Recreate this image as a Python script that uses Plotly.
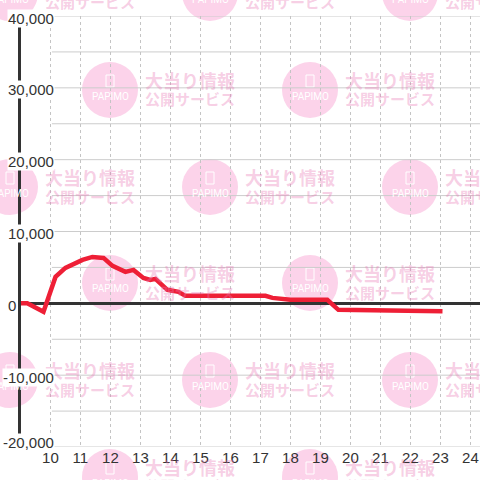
"""Daily payout line chart with PAPIMO-style watermark."""

import plotly.graph_objects as go

# hour of day vs. balance
hours = [9.0, 9.23, 9.77, 10.17, 10.5, 11.07, 11.4, 11.77, 12.07, 12.5, 12.77,
         13.1, 13.33, 13.5, 13.9, 14.27, 14.5, 17.17, 17.4, 18.0, 19.23, 19.6, 23.07]
balance = [0, 0, -1180, 3680, 4930, 6040, 6460, 6320, 5210, 4380, 4650,
           3540, 3260, 3400, 1880, 1600, 1040, 1040, 760, 490, 490, -900, -1110]

x_ticks = list(range(10, 25))
y_labels = [40000, 30000, 20000, 10000, 0, -10000, -20000]
y_grid = list(range(-20000, 40001, 5000))

# pixel layout of the 480x480 canvas
W = H = 480
ML, MR, MT, MB = 21, 0, 16, 33
PW, PH = W - ML - MR, H - MT - MB


def px(x):
    return (x - ML) / PW


def py(y):
    return (H - MB - y) / PH


fig = go.Figure()
fig.add_trace(go.Scatter(
    x=hours, y=balance, mode="lines",
    line=dict(color="#ee1f36", width=4.5),
    hoverinfo="skip", showlegend=False,
))

shapes = []
annotations = []

# watermark tiles
wm_centers = [(10, -7), (210, -7), (410, -7), (110, 90), (310, 90),
              (10, 187), (210, 187), (410, 187), (110, 283), (310, 283),
              (10, 380), (210, 380), (410, 380), (110, 477), (310, 477)]
r = 28
wm_pink = "rgba(232,120,180,0.36)"
for cx, cy in wm_centers:
    shapes.append(dict(type="circle", xref="paper", yref="paper", layer="below",
                       x0=px(cx - r), x1=px(cx + r), y0=py(cy + r), y1=py(cy - r),
                       fillcolor="#fcd3ea", line_width=0))
    shapes.append(dict(type="rect", xref="paper", yref="paper", layer="below",
                       x0=px(cx - 4), x1=px(cx + 4), y0=py(cy - 3), y1=py(cy - 15),
                       fillcolor="rgba(0,0,0,0)", line=dict(color="white", width=1)))
    annotations.append(dict(xref="paper", yref="paper", x=px(cx), y=py(cy + 6),
                            xanchor="center", yanchor="middle",
                            text="PAPIMO", showarrow=False,
                            font=dict(family="Roboto", size=10, color="white")))
    annotations.append(dict(xref="paper", yref="paper", x=px(cx + 33), y=py(cy - 10),
                            xanchor="left", yanchor="middle",
                            text="<b>大当り情報</b>", showarrow=False,
                            font=dict(family="Noto Sans CJK JP", size=18, color=wm_pink)))
    annotations.append(dict(xref="paper", yref="paper", x=px(cx + 33), y=py(cy + 9),
                            xanchor="left", yanchor="middle",
                            text="<b>公開サービス</b>", showarrow=False,
                            font=dict(family="Noto Sans CJK JP", size=15, color=wm_pink)))

# solid horizontal grid, starting right of the labels
for v in y_grid:
    shapes.append(dict(type="line", xref="x", yref="y", layer="below",
                       x0=10.05, x1=24.5, y0=v, y1=v,
                       line=dict(color="#cccccc", width=1)))

# y tick labels drawn over the axis line
for v in y_labels:
    annotations.append(dict(
        xref="paper", yref="y", x=px(2 if v < 0 else 7), y=v,
        xanchor="left", yanchor="middle",
        yshift=5 if v == min(y_labels) else -2,
        text=f"{v:,}", showarrow=False, bgcolor="white", borderpad=0,
        font=dict(family="Liberation Sans", size=15, color="#333333"),
    ))

fig.update_layout(
    width=W, height=H,
    margin=dict(l=ML, r=MR, t=MT, b=MB),
    paper_bgcolor="white", plot_bgcolor="rgba(0,0,0,0)",
    shapes=shapes, annotations=annotations,
    xaxis=dict(range=[9.02, 24.32], tickvals=x_ticks, showgrid=True,
               gridcolor="#c4c4c4", griddash="3px,3px", gridwidth=1,
               zeroline=False, showline=False, ticks="",
               tickfont=dict(family="Liberation Sans", size=15, color="#333333")),
    yaxis=dict(range=[-20000, 40000], showgrid=False, showticklabels=False,
               zeroline=True, zerolinecolor="#333333", zerolinewidth=3,
               showline=True, linecolor="#333333", linewidth=3, ticks=""),
)

fig.write_html("out.html", config={"displayModeBar": False},
               post_script="document.body.style.margin='0';")
